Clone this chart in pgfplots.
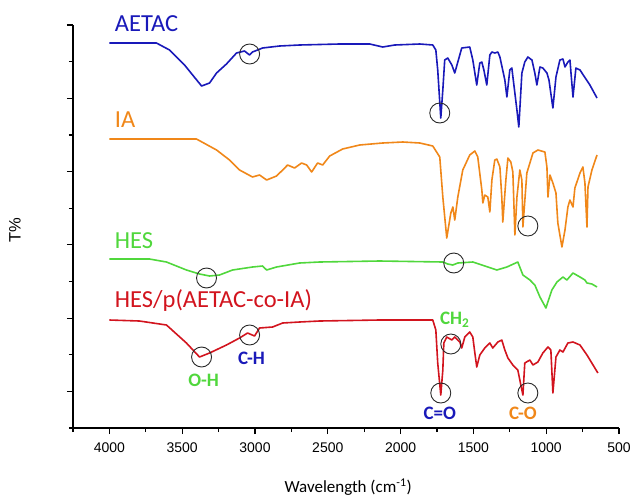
\documentclass[border=0pt]{standalone}
\usepackage{pgfplots}
\pgfplotsset{compat=1.18}
\usepackage{fontspec}
\setmainfont{Carlito}
\setsansfont{Liberation Sans}
\definecolor{cblue}{RGB}{25,25,185}
\definecolor{corange}{RGB}{240,135,25}
\definecolor{cgreen}{RGB}{80,215,60}
\definecolor{cred}{RGB}{210,20,30}
\definecolor{ccirc}{RGB}{40,40,40}
\tikzset{circ/.style={ccirc, line width=0.9pt}}
\begin{document}
\begin{tikzpicture}
\begin{axis}[
  scale only axis, width=546pt, height=403pt,
  xmin=500, xmax=4250, x dir=reverse,
  ymin=0, ymax=403,
  axis x line*=bottom, axis y line*=left,
  axis line style={-, line width=1.5pt, black},
  tick align=outside,
  xtick={4000,3500,3000,2500,2000,1500,1000,500},
  minor xtick={4250,3750,3250,2750,2250,1750,1250,750},
  ytick={36.6,109.9,183.2,256.5,329.7,403},
  minor ytick={0,73.3,146.5,219.8,293.1,366.4},
  yticklabels={},
  major tick length=6pt, minor tick length=4pt,
  every tick/.style={black, line width=1.2pt},
  /pgf/number format/assume math mode=true,
  /pgf/number format/1000 sep={},
  xticklabel style={font=\sffamily\fontsize{14}{16}\selectfont, yshift=-5pt},
  xlabel={Wavelength (cm\textsuperscript{-1})},
  xlabel style={font=\rmfamily\fontsize{17}{19}\selectfont, at={(axis description cs:0.504,0)}, anchor=center, yshift=-59pt},
  ylabel={T\%},
  ylabel style={font=\sffamily\fontsize{16.5}{18}\selectfont, at={(axis description cs:-0.1062,0.49)}, anchor=center, rotate=0},
  clip=false,
  every axis plot/.style={line width=1.6pt, line join=round},
]
% AETAC
\addplot[cblue] coordinates {
(4000,385)(3677,385)(3587,378)(3484,363)(3367,342)(3312,345)(3264,355)(3196,364)
(3127,375)(3072,377)(3037,373)(3017,376)(2948,380)(2831,382)(2694,383)(2418,384)
(2212,384)(2123,381)(2040,383)(1868,384)(1779,383)(1758,378)(1745,358)(1724,310)
(1710,338)(1697,368)(1676,370)(1648,363)(1628,355)(1607,366)(1580,380)(1525,381)
(1504,368)(1477,343)(1456,365)(1442,366)(1428,358)(1408,343)(1387,373)(1373,376)
(1353,375)(1332,376)(1318,371)(1284,348)(1270,331)(1250,358)(1236,360)(1201,318)
(1188,301)(1167,355)(1147,366)(1126,371)(1098,368)(1078,355)(1064,343)(1043,361)
(1023,360)(995,355)(981,348)(954,320)(933,351)(906,368)(885,369)(871,361)
(851,366)(837,368)(816,331)(796,360)(768,358)(700,343)(651,330)
};
% IA
\addplot[corange] coordinates {
(4000,289)(3725,289)(3402,289)(3264,278)(3175,268)(3106,258)(3017,251)(2969,253)
(2920,248)(2852,252)(2810,258)(2776,263)(2728,260)(2680,265)(2645,263)(2611,256)
(2570,265)(2535,263)(2487,272)(2398,279)(2281,283)(2123,285)(1985,286)(1868,285)
(1779,282)(1731,271)(1710,231)(1683,190)(1655,215)(1641,221)(1628,208)(1607,231)
(1573,258)(1525,273)(1490,277)(1470,271)(1442,238)(1435,225)(1422,233)(1401,231)
(1387,216)(1373,248)(1353,268)(1339,269)(1318,261)(1305,231)(1298,206)(1277,248)
(1263,270)(1243,266)(1229,256)(1215,193)(1201,231)(1181,258)(1167,248)(1160,201)
(1133,255)(1091,275)(1057,278)(1009,276)(995,261)(988,231)(974,253)(954,245)
(933,235)(920,205)(892,181)(871,198)(851,221)(837,228)(816,221)(803,240)
(768,255)(748,261)(734,245)(720,201)(713,241)(686,258)(651,273)
};
% HES
\addplot[cgreen] coordinates {
(4000,169)(3725,169)(3608,166)(3471,158)(3381,154)(3312,152)(3244,153)(3154,158)
(3017,161)(2948,162)(2920,158)(2852,161)(2694,165)(2556,166)(2144,167)(1710,166)
(1676,164)(1642,163)(1607,165)(1504,166)(1442,163)(1339,158)(1270,161)(1195,166)
(1160,153)(1112,148)(1078,143)(1043,131)(1002,120)(961,138)(926,146)(885,151)
(858,148)(816,155)(768,151)(734,148)(720,145)(686,144)(651,141)
};
% HES/p(AETAC-co-IA)
\addplot[cred] coordinates {
(4000,108)(3794,107)(3608,103)(3471,85)(3381,71)(3312,75)(3196,83)(3106,90)
(3051,95)(3003,92)(2969,100)(2879,101)(2810,105)(2694,106)(2556,107)(2144,108)
(1779,108)(1758,98)(1745,65)(1724,33)(1710,58)(1703,85)(1683,91)(1648,88)
(1628,91)(1593,86)(1580,80)(1559,91)(1525,96)(1504,91)(1490,75)(1477,61)
(1456,73)(1422,80)(1387,85)(1367,80)(1332,86)(1305,88)(1284,78)(1263,70)
(1229,63)(1195,58)(1160,33)(1147,65)(1112,68)(1091,63)(1057,66)(1023,75)
(988,81)(968,78)(954,35)(933,71)(906,78)(885,76)(851,85)(816,86)
(768,83)(720,73)(645,55)
};
% series labels
\node[anchor=base west, text=cblue, font=\rmfamily\fontsize{24.5}{26}\selectfont] at (axis cs:3986,396) {AETAC};
\node[anchor=base west, text=corange, font=\rmfamily\fontsize{24.5}{26}\selectfont] at (axis cs:3986,301) {IA};
\node[anchor=base west, text=cgreen, font=\rmfamily\fontsize{24.5}{26}\selectfont] at (axis cs:3986,180) {HES};
\node[anchor=base west, text=cred, font=\rmfamily\fontsize{24.5}{26}\selectfont] at (axis cs:3986,121) {HES/p(AETAC-co-IA)};
% circles
\draw[circ] (axis cs:3037,374) circle[radius=10pt];
\draw[circ] (axis cs:1731,315) circle[radius=10pt];
\draw[circ] (axis cs:1126,202) circle[radius=10pt];
\draw[circ] (axis cs:3333,150) circle[radius=10pt];
\draw[circ] (axis cs:1635,165) circle[radius=10pt];
\draw[circ] (axis cs:3367,71) circle[radius=10pt];
\draw[circ] (axis cs:3037,93) circle[radius=10pt];
\draw[circ] (axis cs:1655,84) circle[radius=10pt];
\draw[circ] (axis cs:1724,35) circle[radius=10pt];
\draw[circ] (axis cs:1126,35) circle[radius=10pt];
% annotations
\node[text=cgreen, font=\rmfamily\bfseries\fontsize{19}{21}\selectfont] at (axis cs:3353,48) {O-H};
\node[text=cblue, font=\rmfamily\bfseries\fontsize{19}{21}\selectfont] at (axis cs:3024,70) {C-H};
\node[text=cgreen, font=\rmfamily\bfseries\fontsize{19}{21}\selectfont] at (axis cs:1628,108) {CH\textsubscript{2}};
\node[text=cblue, font=\rmfamily\bfseries\fontsize{19}{21}\selectfont] at (axis cs:1731,15) {C=O};
\node[text=corange, font=\rmfamily\bfseries\fontsize{19}{21}\selectfont] at (axis cs:1160,15) {C-O};
\end{axis}
\pgfresetboundingbox
\path ([shift={(-73pt,-71pt)}]current axis.south west) rectangle ([shift={(14pt,25pt)}]current axis.north east);
\end{tikzpicture}
\end{document}
